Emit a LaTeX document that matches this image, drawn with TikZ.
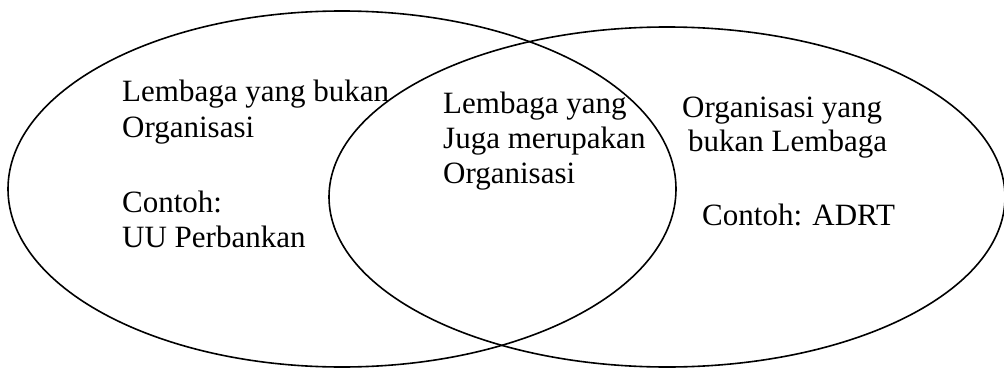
\documentclass[tikz,border=0pt]{standalone}
\usepackage{fontspec}
\setmainfont{Liberation Serif}
\usepackage{tikz}

\begin{document}
\begin{tikzpicture}[
  x=1pt, y=-1pt,
  setline/.style={draw=black, line width=1.6pt},
  lbl/.style={anchor=base west, inner sep=0pt, font=\fontsize{31}{36}\selectfont}
]
  \useasboundingbox (0,0) rectangle (1004,369);
  % the two sets
  \draw[setline] (342,189) ellipse [x radius=334pt, y radius=178pt];
  \draw[setline] (667,197) ellipse [x radius=338pt, y radius=170pt];

  % left part
  \node[lbl] (lemA) at (122,102) {Lembaga yang bukan};
  \node[lbl] (lemB) at (122,137) {Organisasi};
  \node[lbl] (lemC) at (122,212) {Contoh:};
  \node[lbl] (lemD) at (122,247) {UU Perbankan};

  % overlap
  \node[lbl] (midA) at (443,113) {Lembaga yang};
  \node[lbl] (midB) at (443,148) {Juga merupakan};
  \node[lbl] (midC) at (443,183) {Organisasi};

  % right part
  \node[lbl] (orgA) at (682,117) {Organisasi yang};
  \node[lbl] (orgB) at (688,151) {bukan Lembaga};
  \node[lbl] (orgC) at (702,225) {Contoh: ADRT};
\end{tikzpicture}
\end{document}
